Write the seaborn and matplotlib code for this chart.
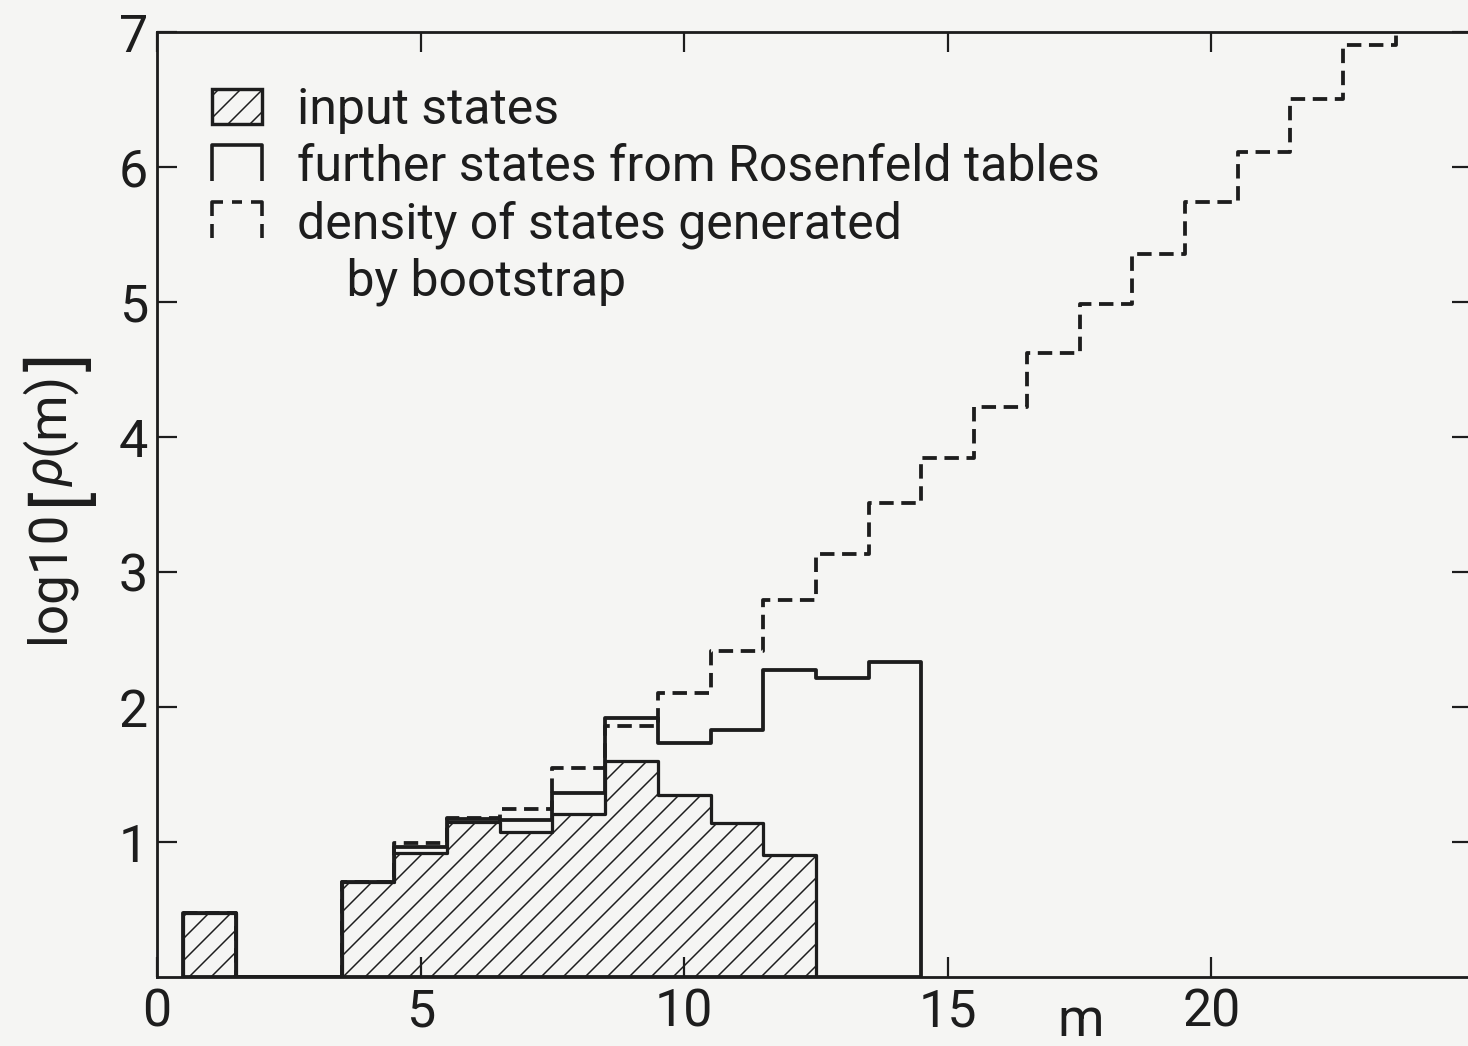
import numpy as np
import pandas as pd
import matplotlib
matplotlib.use("Agg")
import matplotlib.pyplot as plt
import seaborn as sns
from matplotlib.patches import Patch
from matplotlib.lines import Line2D
from matplotlib.path import Path

# log10 of the level density per mass bin m (bins of unit width centred on m)
m_input = [1, 2, 3, 4, 5, 6, 7, 8, 9, 10, 11, 12]
log_rho_input = [0.47, 0.0, 0.0, 0.70, 0.92, 1.15, 1.07, 1.21, 1.60, 1.35, 1.14, 0.90]

m_tables = [1, 2, 3, 4, 5, 6, 7, 8, 9, 10, 11, 12, 13, 14]
log_rho_tables = [0.47, 0.0, 0.0, 0.70, 0.96, 1.17, 1.16, 1.36, 1.92, 1.73,
                  1.83, 2.27, 2.21, 2.33]

m_bootstrap = list(range(1, 25))
log_rho_bootstrap = [0.47, 0.0, 0.0, 0.70, 0.99, 1.18, 1.24, 1.55, 1.86, 2.10,
                     2.41, 2.79, 3.13, 3.51, 3.84, 4.22, 4.62, 4.98, 5.35, 5.74,
                     6.11, 6.50, 6.90, 7.30]

x_ticks = [0, 5, 10, 15, 20]
y_ticks = [1, 2, 3, 4, 5, 6, 7]
legend_labels = ["input states",
                 "further states from Rosenfeld tables",
                 "density of states generated",
                 "    by bootstrap"]

DPI = 66
W, H = 1468, 1046


def pt(pixels):
    """Convert a length in output pixels to points."""
    return pixels * 72.0 / DPI


sns.set_theme(style="white")
plt.rcParams["font.family"] = ["Roboto", "DejaVu Sans"]
plt.rcParams["hatch.linewidth"] = pt(1.5)

ink = "#1d1d1d"
paper = "#f5f5f3"

fig = plt.figure(figsize=((W + 0.5) / DPI, (H + 0.5) / DPI), dpi=DPI,
                 facecolor=paper)
left_px, right_px, top_px, bottom_px = 157, 1471, 32, 977
ax = fig.add_axes([left_px / W, 1 - bottom_px / H,
                   (right_px - left_px) / W, (bottom_px - top_px) / H])
ax.set_facecolor(paper)

df_input = pd.DataFrame({"m": m_input, "w": log_rho_input})
df_tables = pd.DataFrame({"m": m_tables, "w": log_rho_tables})
df_boot = pd.DataFrame({"m": m_bootstrap, "w": log_rho_bootstrap})

lw = pt(3.8)
# hatched input states
sns.histplot(data=df_input, x="m", weights="w", discrete=True,
             element="step", fill=True, color=ink, facecolor="none",
             edgecolor=ink, hatch="/", linewidth=lw * 0.85, ax=ax, zorder=2)
# bootstrap density (dashed)
sns.histplot(data=df_boot, x="m", weights="w", discrete=True,
             element="step", fill=False, color=ink, linewidth=lw,
             linestyle=(0, (3.8, 2.0)), ax=ax, zorder=3)
# states from the tables (solid outline)
sns.histplot(data=df_tables, x="m", weights="w", discrete=True,
             element="step", fill=True, color=ink, facecolor="none",
             edgecolor=ink, linewidth=lw, ax=ax, zorder=4)

ax.set_xlim(0, (right_px - left_px) / 52.7)
ax.set_ylim(0, 7)
ax.set_xticks(x_ticks)
ax.set_xticklabels([str(t) for t in x_ticks])
ax.set_yticks(y_ticks)
ax.set_yticklabels([str(t) for t in y_ticks])
ax.set_xlabel("")
ax.set_ylabel("")

ax.tick_params(which="both", direction="in", length=pt(20), width=pt(2.2),
               top=True, right=True, bottom=True, left=True,
               labeltop=False, labelright=False, colors=ink,
               labelsize=pt(52))
ax.tick_params(axis="x", pad=pt(10))
ax.tick_params(axis="y", pad=pt(9))
for s in ax.spines.values():
    s.set_color(ink)
    s.set_linewidth(pt(2.8))
    s.set_visible(True)


def fig_xy(x_px, y_px):
    return x_px / W, 1 - y_px / H


# y-axis title, written bottom-to-top
ylab_kw = dict(rotation=90, rotation_mode="anchor", ha="left", va="baseline",
               color=ink)
fig.text(*fig_xy(63, 643), "log10", fontsize=pt(53), **ylab_kw)
fig.text(*fig_xy(81, 505), "[", fontsize=pt(70), **ylab_kw)
fig.text(*fig_xy(63, 486), "ρ", fontsize=pt(53), style="italic", **ylab_kw)
fig.text(*fig_xy(63, 455), "(m)", fontsize=pt(53), **ylab_kw)
fig.text(*fig_xy(81, 371), "]", fontsize=pt(70), **ylab_kw)

# x-axis title
fig.text(*fig_xy(1080, 1036), "m", fontsize=pt(53), ha="center",
         va="baseline", color=ink)

# legend symbols
bracket = Path([(-0.7, -0.5), (-0.7, 0.5), (0.7, 0.5), (0.7, -0.5)],
               [Path.MOVETO, Path.LINETO, Path.LINETO, Path.LINETO])
broken_bracket = Path(
    [(-0.7, -0.5), (-0.7, -0.12),
     (-0.7, 0.12), (-0.7, 0.5), (-0.4, 0.5),
     (-0.15, 0.5), (0.15, 0.5),
     (0.4, 0.5), (0.7, 0.5), (0.7, 0.12),
     (0.7, -0.12), (0.7, -0.5)],
    [Path.MOVETO, Path.LINETO,
     Path.MOVETO, Path.LINETO, Path.LINETO,
     Path.MOVETO, Path.LINETO,
     Path.MOVETO, Path.LINETO, Path.LINETO,
     Path.MOVETO, Path.LINETO])

handles = [
    Patch(facecolor="none", edgecolor=ink, hatch="/", linewidth=pt(3.4)),
    Line2D([], [], ls="none", marker=bracket, markersize=pt(50),
           markerfacecolor="none", markeredgecolor=ink,
           markeredgewidth=pt(3.6)),
    Line2D([], [], ls="none", marker=broken_bracket, markersize=pt(50),
           markerfacecolor="none", markeredgecolor=ink,
           markeredgewidth=pt(3.6)),
    Line2D([], [], ls="none"),
]
legend_fs = 50
ax.legend(handles, legend_labels, loc="upper left",
          bbox_to_anchor=((212 - left_px) / (right_px - left_px),
                          (bottom_px - 86) / (bottom_px - top_px)),
          frameon=False, fontsize=pt(legend_fs),
          handlelength=50 / legend_fs, handleheight=35 / legend_fs,
          handletextpad=35 / legend_fs, labelspacing=0.18, borderpad=0,
          borderaxespad=0, labelcolor=ink, numpoints=1)

fig.savefig("out.png", dpi=DPI, facecolor=paper)
